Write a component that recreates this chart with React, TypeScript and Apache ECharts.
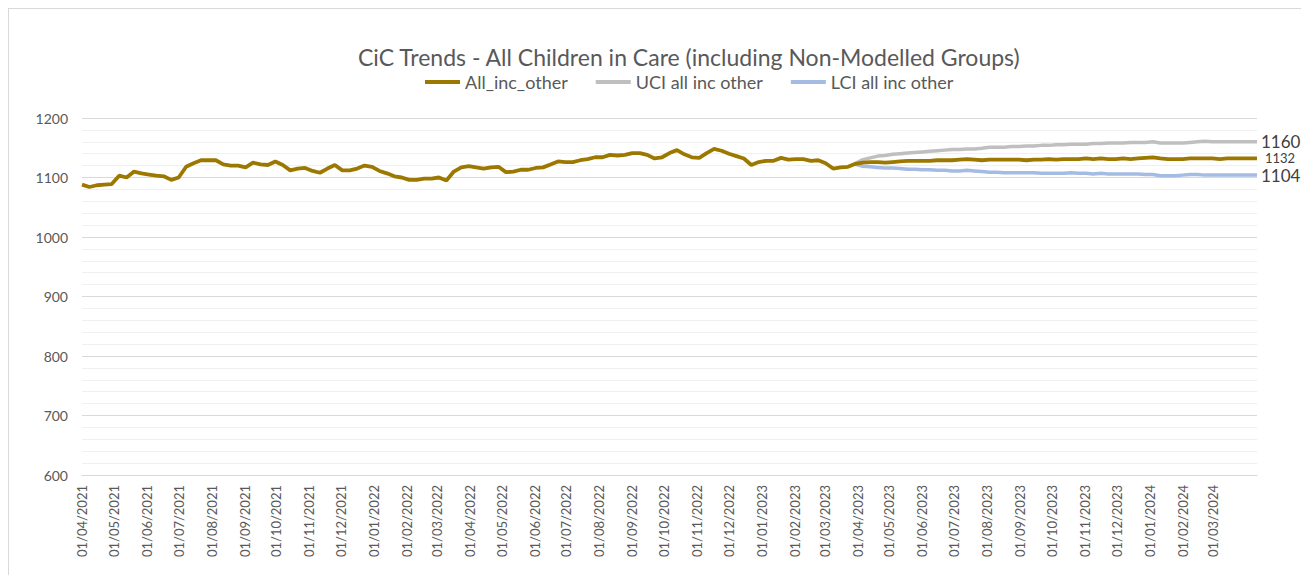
import React, { useEffect, useRef } from "react";
import * as echarts from "echarts";

const START_UTC = Date.UTC(2021, 3, 1);
const WEEK_MS = 7 * 86400000;

// Weekly values (week 0 = 01/04/2021)
const allHistory = [
  1088, 1084, 1087, 1088, 1089, 1103, 1100, 1110, 1107, 1105,
  1103, 1102, 1096, 1100, 1118, 1124, 1129, 1129, 1129, 1122,
  1120, 1120, 1117, 1125, 1122, 1121, 1127, 1121, 1112, 1115,
  1116, 1111, 1108, 1115, 1121, 1112, 1112, 1115, 1120, 1118,
  1111, 1107, 1102, 1100, 1096, 1096, 1098, 1098, 1100, 1095,
  1110, 1117, 1119, 1117, 1115, 1117, 1118, 1109, 1110, 1113,
  1113, 1116, 1117, 1122, 1127, 1126, 1126, 1129, 1131, 1134,
  1134, 1138, 1137, 1138, 1141, 1141, 1138, 1132, 1134, 1141,
  1146, 1139, 1134, 1133, 1141, 1148, 1145, 1140, 1136, 1132,
  1121, 1126, 1128, 1128, 1133, 1130, 1131, 1131, 1128, 1129,
  1124, 1115, 1117, 1118, 1123,
];
// weeks 105..158
const allForecast = [
  1125, 1126, 1126, 1125, 1126, 1127, 1128, 1128, 1128, 1128,
  1129, 1129, 1129, 1130, 1131, 1130, 1129, 1130, 1130, 1130,
  1130, 1130, 1129, 1130, 1130, 1131, 1130, 1131, 1131, 1131,
  1132, 1131, 1132, 1131, 1131, 1132, 1131, 1132, 1133, 1134,
  1132, 1131, 1131, 1131, 1132, 1132, 1132, 1132, 1131, 1132,
  1132, 1132, 1132, 1132,
];
// weeks 104..158
const uciValues = [
  1124, 1130, 1133, 1136, 1137, 1139, 1140, 1141, 1142, 1143,
  1144, 1145, 1146, 1147, 1147, 1148, 1148, 1149, 1151, 1151,
  1151, 1152, 1152, 1153, 1153, 1154, 1154, 1155, 1155, 1156,
  1156, 1156, 1157, 1157, 1158, 1158, 1158, 1159, 1159, 1159,
  1160, 1158, 1158, 1158, 1158, 1159, 1160, 1161, 1160, 1160,
  1160, 1160, 1160, 1160, 1160,
];
const lciValues = [
  1122, 1119, 1118, 1117, 1116, 1116, 1115, 1114, 1114, 1113,
  1113, 1112, 1112, 1111, 1111, 1112, 1111, 1110, 1109, 1109,
  1108, 1108, 1108, 1108, 1108, 1107, 1107, 1107, 1107, 1108,
  1107, 1107, 1106, 1107, 1106, 1106, 1106, 1106, 1106, 1105,
  1105, 1103, 1103, 1103, 1104, 1105, 1105, 1104, 1104, 1104,
  1104, 1104, 1104, 1104, 1104,
];
const FORECAST_START_WEEK = 104;
const LAST_WEEK = 158;

const monthTicks = [
  "2021-04-01", "2021-05-01", "2021-06-01", "2021-07-01", "2021-08-01", "2021-09-01",
  "2021-10-01", "2021-11-01", "2021-12-01", "2022-01-01", "2022-02-01", "2022-03-01",
  "2022-04-01", "2022-05-01", "2022-06-01", "2022-07-01", "2022-08-01", "2022-09-01",
  "2022-10-01", "2022-11-01", "2022-12-01", "2023-01-01", "2023-02-01", "2023-03-01",
  "2023-04-01", "2023-05-01", "2023-06-01", "2023-07-01", "2023-08-01", "2023-09-01",
  "2023-10-01", "2023-11-01", "2023-12-01", "2024-01-01", "2024-02-01", "2024-03-01",
];

const seriesNames = ["All_inc_other", "UCI all inc other", "LCI all inc other"];
const TITLE = "CiC Trends - All Children in Care (including Non-Modelled Groups)";

const FONT = "Lato, 'Open Sans', sans-serif";
const GOLD = "#9C7800";
const GREY = "#BFBFBF";
const BLUE = "#A4BCE4";

const weekTs = (k: number) => START_UTC + k * WEEK_MS;
const parseUtc = (s: string) => {
  const [y, m, d] = s.split("-").map(Number);
  return Date.UTC(y, m - 1, d);
};
const fmt = (ts: number) => {
  const d = new Date(ts);
  const dd = String(d.getUTCDate()).padStart(2, "0");
  const mm = String(d.getUTCMonth() + 1).padStart(2, "0");
  return `${dd}/${mm}/${d.getUTCFullYear()}`;
};

export default function App() {
  const ref = useRef<HTMLDivElement>(null);
  useEffect(() => {
    if (!ref.current) return;
    const chart = echarts.init(ref.current, undefined, { renderer: "svg" });
    const allData = [...allHistory, ...allForecast].map((v, k) => [weekTs(k), v]);
    const uciData = uciValues.map((v, i) => [weekTs(FORECAST_START_WEEK + i), v]);
    const lciData = lciValues.map((v, i) => [weekTs(FORECAST_START_WEEK + i), v]);
    const ticks = monthTicks.map(parseUtc);

    const endLabel = (size: number, dist: number) => ({
      show: true,
      formatter: (p: any) => String(p.value[1]),
      fontFamily: FONT,
      fontSize: size,
      color: "#404040",
      distance: dist,
    });

    chart.setOption({
      animation: false,
      textStyle: { fontFamily: FONT },
      title: {
        text: TITLE,
        left: 344,
        top: 31,
        textStyle: { fontFamily: FONT, fontSize: 23, fontWeight: "normal", color: "#595959" },
      },
      legend: {
        data: seriesNames,
        left: 411,
        top: 59,
        itemWidth: 35,
        itemHeight: 4,
        itemGap: 28,
        icon: "rect",
        textStyle: { fontFamily: FONT, fontSize: 18, color: "#595959" },
      },
      grid: { left: 73, top: 109, width: 1175, height: 357, containLabel: false },
      xAxis: {
        type: "value",
        min: START_UTC,
        max: weekTs(LAST_WEEK),
        axisLine: { show: true, lineStyle: { color: "#D9D9D9", width: 1 } },
        axisTick: { show: false },
        splitLine: { show: false },
        axisLabel: {
          customValues: ticks,
          rotate: 90,
          margin: 10,
          fontFamily: FONT,
          fontSize: 13,
          color: "#595959",
          hideOverlap: false,
          showMinLabel: true,
          showMaxLabel: true,
          formatter: (v: number) => fmt(v),
        },
      },
      yAxis: {
        type: "value",
        min: 600,
        max: 1200,
        interval: 100,
        axisLine: { show: false },
        axisTick: { show: false },
        axisLabel: {
          fontFamily: FONT,
          fontSize: 14,
          color: "#595959",
          margin: 14,
          formatter: (v: number) => String(v),
        },
        splitLine: { lineStyle: { color: "#D9D9D9", width: 1 } },
        minorTick: { show: false, splitNumber: 5 },
        minorSplitLine: { show: true, lineStyle: { color: "#F0F0F0", width: 1 } },
      },
      series: [
        {
          name: seriesNames[1],
          type: "line",
          data: uciData,
          showSymbol: false,
          symbol: "none",
          lineStyle: { color: GREY, width: 3.5 },
          itemStyle: { color: GREY },
          z: 2,
          endLabel: endLabel(17, 4),
        },
        {
          name: seriesNames[2],
          type: "line",
          data: lciData,
          showSymbol: false,
          symbol: "none",
          lineStyle: { color: BLUE, width: 3.5 },
          itemStyle: { color: BLUE },
          z: 2,
          endLabel: endLabel(17, 4),
        },
        {
          name: seriesNames[0],
          type: "line",
          data: allData,
          showSymbol: false,
          symbol: "none",
          lineStyle: { color: GOLD, width: 3.8 },
          itemStyle: { color: GOLD },
          z: 3,
          endLabel: endLabel(13, 8),
        },
      ],
    });
    return () => chart.dispose();
  }, []);

  return (
    <div
      ref={ref}
      style={{
        width: 1300,
        height: 600,
        boxSizing: "border-box",
        border: "1px solid #D9D9D9",
        background: "#fff",
      }}
    />
  );
}
